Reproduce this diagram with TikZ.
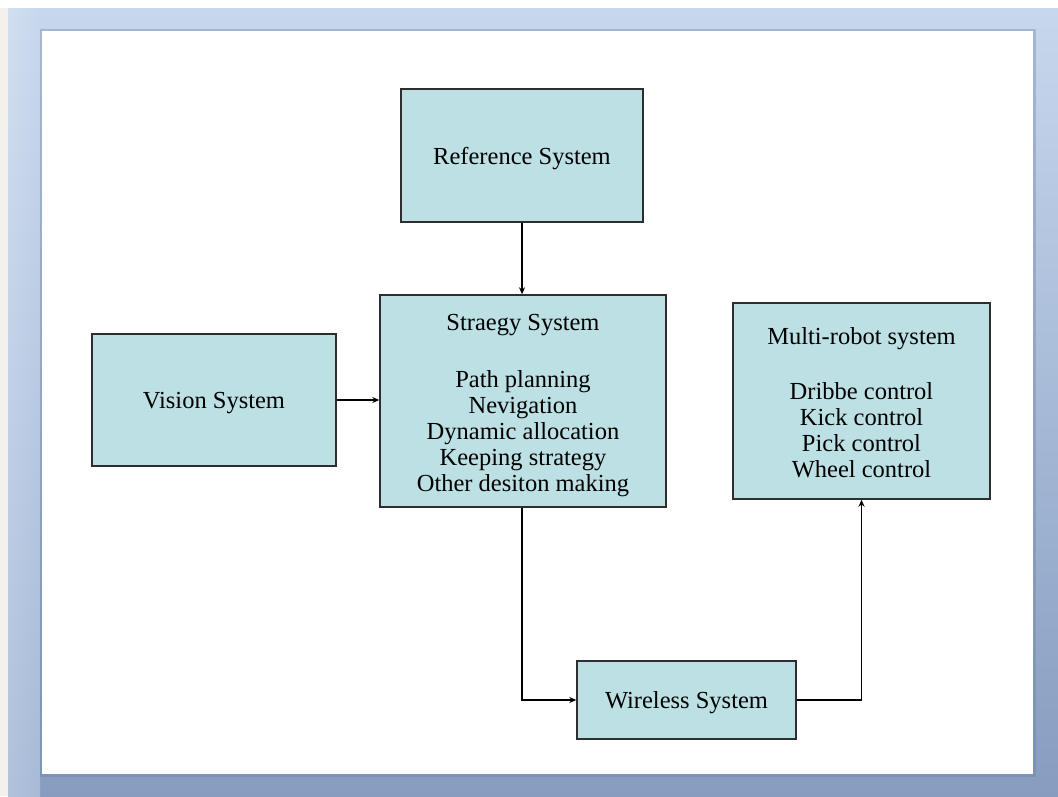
\documentclass[tikz,border=0pt]{standalone}
\usepackage{fontspec}
\setmainfont{Liberation Serif}
\usetikzlibrary{arrows.meta}
\definecolor{boxfill}{HTML}{BCE0E4}
\definecolor{boxline}{HTML}{2E2E2E}
\definecolor{frametop}{HTML}{C7D7ED}
\definecolor{framebot}{HTML}{869DC0}
\definecolor{pageedge}{HTML}{F4F1EC}
\tikzset{
  sysbox/.style={draw=boxline, line width=1.4pt, fill=boxfill, inner sep=0pt},
  systext/.style={align=center, inner sep=0pt, font=\fontsize{24.5}{26}\selectfont},
  arr/.style={draw=black, line width=1.3pt, -{Stealth[length=7pt,width=6pt]}},
}
\begin{document}
\begin{tikzpicture}[x=1pt,y=-1pt]
  \useasboundingbox (0,0) rectangle (1058,796);
  % page background and slide frame
  \fill[white] (0,0) rectangle (1058,796);
  \fill[pageedge] (0,8) rectangle (8,796);
  \shade[top color=frametop, bottom color=framebot] (8,8) rectangle (1058,796);
  \shade[left color=frametop!60!white, right color=frametop, opacity=0.5] (8,8) rectangle (40,796);
  % inner shadow round the white slide
  \fill[framebot!80!black, opacity=0.35] (40,29) rectangle (1036,777);
  \fill[white] (42,31) rectangle (1033,774);

  % blocks
  \node[sysbox, minimum width=242pt, minimum height=133pt] (ref) at (522,155.5) {};
  \node[systext] (reftxt) at ([yshift=-3pt]ref.center) {Reference System};

  \node[sysbox, minimum width=286pt, minimum height=212pt] (strat) at (523,401) {};
  \node[systext] (strattxt) at ([yshift=-5pt]strat.center)
    {Straegy System\\[31pt]Path planning\\Nevigation\\Dynamic allocation\\Keeping strategy\\Other desiton making};

  \node[sysbox, minimum width=244pt, minimum height=132pt] (vis) at (214,400) {};
  \node[systext] (vistxt) at ([yshift=-3pt]vis.center) {Vision System};

  \node[sysbox, minimum width=257pt, minimum height=196pt] (multi) at (861.5,401) {};
  \node[systext] (multitxt) at ([yshift=-2pt]multi.center)
    {Multi-robot system\\[29pt]Dribbe control\\Kick control\\Pick control\\Wheel control};

  \node[sysbox, minimum width=219pt, minimum height=78pt] (wire) at (686.5,700) {};
  \node[systext] (wiretxt) at ([yshift=-3pt]wire.center) {Wireless System};

  % connectors
  \draw[arr] (ref.south) -- (ref.south |- strat.north);
  \draw[arr] (vis.east) -- (vis.east -| strat.west);
  \draw[arr] (ref.south |- strat.south) |- (wire.west);
  \draw[arr] (wire.east) -| (multi.south);
\end{tikzpicture}
\end{document}
